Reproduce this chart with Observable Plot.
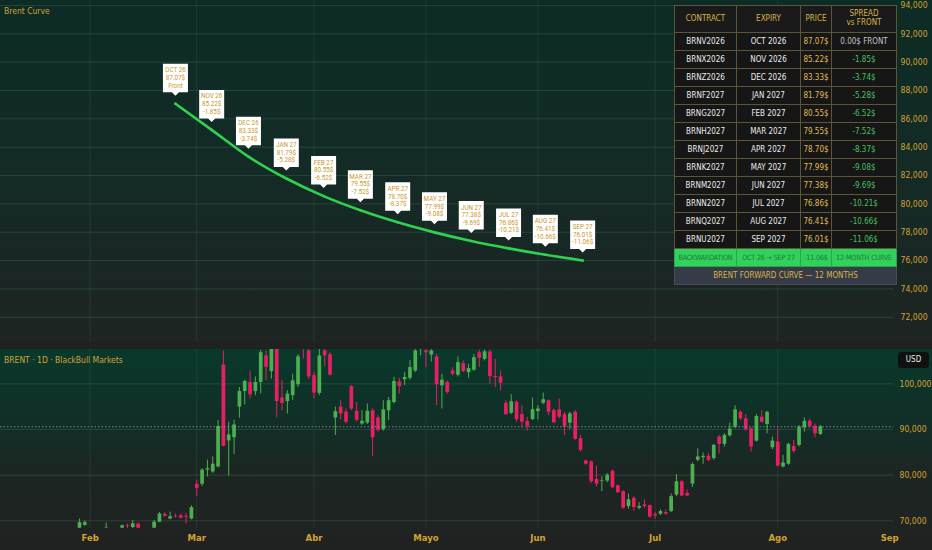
<!DOCTYPE html>
<html><head><meta charset="utf-8">
<script src="https://cdn.jsdelivr.net/npm/d3@7"></script>
<script src="https://cdn.jsdelivr.net/npm/@observablehq/plot@0.6"></script>
<style>
html,body{margin:0;padding:0;background:#202221;}
#root{position:relative;width:932px;height:550px;overflow:hidden;background:#202221;font-family:"Liberation Sans Narrow","DejaVu Sans Condensed",Roboto,sans-serif;}
#topbg{position:absolute;left:0;top:0;width:932px;height:341px;background:linear-gradient(#0c2c25 0%,#132b26 45%,#1e2523 100%);}
#botbg{position:absolute;left:0;top:349px;width:932px;height:201px;background:linear-gradient(#09392c 0%,#112f27 35%,#1c2623 62%,#202221 100%);}
#top{position:absolute;left:0;top:0;}
#bot{position:absolute;left:0;top:342px;}
.lbl{position:absolute;color:#d2a235;font-size:8.5px;white-space:nowrap;}
#usd{position:absolute;left:898px;top:352px;width:31px;height:16px;background:#0f1110;border-radius:3px;color:#e6e6e6;font-size:8px;line-height:16px;text-align:center;}
#tbl{position:absolute;left:674px;top:5px;border-collapse:collapse;table-layout:fixed;width:218px;font-size:8px;}
#tbl td{border:1px solid #5d5636;text-align:center;padding:0;height:17px;background:#161616;color:#ececec;white-space:nowrap;overflow:hidden;}
#tbl tr.hd td{height:26px;color:#d8b44c;background:#1a1a1a;line-height:1.1;}
#tbl td.pr{color:#e0bd55;}
#tbl td.sp{color:#45c163;}
#tbl td.sp0{color:#c4c4c4;}
#tbl tr.bw td{background:#31d15b;color:#1e7a3b;border-color:#27a849;font-size:7.2px;letter-spacing:-0.2px;}
#tbl tr.ft td{background:#363b47;color:#d8b44c;border-color:#4a4c50;}
</style></head>
<body>
<div id="root">
  <div id="topbg"></div>
  <div id="botbg"></div>
  <div id="top"></div>
  <div id="bot"></div>
  <div class="lbl" style="left:4px;top:6px;">Brent Curve</div>
  <div class="lbl" style="left:4px;top:355px;">BRENT · 1D · BlackBull Markets</div>
  <div id="usd">USD</div>
</div>
<script>
// ---- forward curve data ----
const contracts = ["BRNV2026","BRNX2026","BRNZ2026","BRNF2027","BRNG2027","BRNH2027","BRNJ2027","BRNK2027","BRNM2027","BRNN2027","BRNQ2027","BRNU2027"];
const expiries = ["OCT 2026","NOV 2026","DEC 2026","JAN 2027","FEB 2027","MAR 2027","APR 2027","MAY 2027","JUN 2027","JUL 2027","AUG 2027","SEP 2027"];
const shortLabels = ["OCT 26","NOV 26","DEC 26","JAN 27","FEB 27","MAR 27","APR 27","MAY 27","JUN 27","JUL 27","AUG 27","SEP 27"];
const prices = [87.07,85.22,83.33,81.79,80.55,79.55,78.70,77.99,77.38,76.86,76.41,76.01];
const spreads = [0,-1.85,-3.74,-5.28,-6.52,-7.52,-8.37,-9.08,-9.69,-10.21,-10.66,-11.06];
const curveBars = [18,24.8,31.7,38.8,45.8,52.7,59.7,66.6,73.5,80.5,87.4,94.4];

// ---- daily candles (bar index = trading day) ----
const open = [
68.4,69.0,null,null,null,68.4,null,null,68.4,68.9,
68.55,69.3,null,null,68.4,69.7,71.4,70.4,71.0,71.1,
71.0,70.4,78.0,78.0,81.1,80.7,81.8,104.1,87.5,88.2,
94.9,98.3,100.3,98.3,100.3,106.1,102.7,107.6,96.9,96.1,
97.4,99.8,108.0,107.2,101.8,97.9,107.2,106.4,92.5,94.9,
93.8,99.35,94.0,91.2,91.4,94.1,92.5,90.0,94.1,95.9,
100.4,100.9,101.2,102.8,107.6,107.2,106.3,105.87,99.57,100.29,
102.83,101.88,104.42,102.46,102.97,106.81,105.36,106.95,101.6,101.52,
95.72,93.55,95.94,93.26,91.74,92.17,93.91,95.72,96.3,94.13,
94.28,93.26,91.38,93.77,87.97,83.12,82.9,79.06,78.6,78.7,
80.87,77.68,76.38,73.12,74.93,72.75,73.48,73.33,71.38,71.45,
71.81,72.03,75.65,78.55,76.01,78.04,83.26,83.84,84.13,83.62,
88.33,86.74,88.62,90.51,93.77,92.32,90.14,87.46,92.68,91.09,
86.01,87.25,81.81,82.39,86.3,86.52,90.36,91.81,90.65,88.91];
const high = [
70.4,70.0,null,null,null,69.5,null,null,69.1,69.3,
70.1,69.5,null,null,70.1,71.8,71.8,71.9,71.5,71.5,
71.6,73.3,78.9,81.4,83.3,84.0,92.0,107.2,91.6,92.0,
99.2,100.8,102.8,101.5,107.3,107.2,108.0,108.5,100.7,98.5,
102.1,106.4,108.5,108.0,102.5,107.5,107.5,106.8,94.9,96.3,
94.5,99.6,95.9,94.1,95.6,94.5,93.0,96.3,97.0,101.4,
101.2,102.5,105.1,107.5,108.6,107.5,107.5,106.45,102.1,100.65,
103.55,105.87,105.0,104.28,106.45,107.32,107.4,107.4,105.36,102.83,
96.3,97.6,96.3,95.22,92.68,96.88,95.22,97.97,96.45,94.49,
96.67,93.77,93.77,94.13,88.7,83.26,83.12,81.96,79.64,80.36,
81.09,77.83,76.59,75.87,75.29,73.99,74.57,73.48,71.81,72.39,
72.39,75.87,80.14,78.8,76.74,82.68,85.8,84.86,84.71,86.74,
88.7,89.06,91.38,95.22,94.13,93.26,90.36,93.26,94.13,93.98,
88.33,90.14,84.35,87.03,87.61,90.87,92.54,92.32,91.23,90.87];
const low = [
68.2,68.8,null,null,null,68.4,null,null,68.3,68.3,
68.3,68.25,null,null,68.3,69.6,70.8,70.2,70.6,70.4,
69.3,70.2,75.3,77.5,79.6,80.4,81.6,86.2,79.8,84.5,
92.5,95.4,96.7,97.4,97.8,100.7,101.0,92.5,94.1,93.4,
96.4,99.2,105.4,101.0,96.7,97.4,103.7,101.7,88.7,92.1,
91.2,94.1,91.6,90.9,91.1,84.1,89.4,89.6,92.0,95.6,
97.75,99.6,100.8,102.5,106.1,103.5,104.8,95.22,94.49,97.75,
101.74,101.52,102.46,101.23,102.68,103.55,105.0,99.93,99.2,98.48,
93.04,93.26,91.59,90.36,89.64,91.96,92.1,95.43,93.04,91.23,
92.32,88.7,89.93,87.61,85.07,82.17,78.19,77.46,76.38,78.33,
77.1,76.01,72.54,72.54,72.03,72.39,72.75,70.58,70.36,71.16,
71.16,71.81,75.29,75.29,75.29,77.32,82.9,82.39,82.9,83.26,
84.57,86.16,88.33,90.14,91.96,89.64,85.07,87.25,91.38,89.06,
85.58,81.81,81.59,82.17,84.71,86.16,89.42,90.36,88.19,88.7];
const close = [
69.6,69.6,null,null,null,68.5,null,null,68.9,68.75,
69.35,68.4,null,null,69.7,71.5,71.0,70.9,70.85,70.6,
70.8,72.9,77.1,81.1,81.4,82.4,90.65,86.3,88.8,91.0,
98.3,100.5,97.6,100.3,106.8,103.6,107.6,96.1,95.7,97.75,
100.65,105.9,107.8,101.5,97.97,106.1,106.1,101.9,93.9,93.4,
91.6,94.5,92.0,91.8,94.0,88.2,89.8,94.3,96.3,100.5,
99.4,101.4,103.55,107.2,108.2,106.8,107.2,99.78,100.8,98.12,
102.1,104.64,102.68,103.33,105.72,105.58,107.0,101.59,101.38,100.14,
93.26,96.09,92.1,91.59,90.72,94.35,94.49,96.52,93.77,91.45,
92.68,90.51,93.41,87.83,85.43,82.39,78.55,78.04,78.75,80.0,
77.25,76.16,72.75,74.57,72.9,73.12,73.12,70.8,71.09,72.03,
71.52,75.29,78.55,75.43,75.43,82.32,83.99,84.13,83.26,86.52,
86.74,88.7,90.07,94.28,92.32,89.93,86.16,92.83,91.59,93.77,
87.46,81.96,82.68,86.74,85.22,90.51,91.81,90.65,89.06,90.58];

// ---- axis ticks ----
const monthBars = [2,22,44,65,86,108,131,152];
const monthLabels = ["Feb","Mar","Abr","Mayo","Jun","Jul","Ago","Sep"];
const topTicks = [72,74,76,78,80,82,84,86,88,90,92,94];
const botTicks = [70,80,90,100];

const GOLD = "#d4a233", GREEN = "#4caf50", RED = "#e91e63", LINE = "#2fd24e", LABEL = "#c8982a";
const fontFamily = '"Liberation Sans Narrow","DejaVu Sans Condensed",Roboto,sans-serif';
const fmt = d => d3.format(".3f")(d).replace(".", ",");
const monthMap = new Map(monthBars.map((b, i) => [b, monthLabels[i]]));
const xDomain = [-14.82, 152.72];

const curve = prices.map((p, i) => ({
  bar: curveBars[i], price: p, name: shortLabels[i], priceText: p.toFixed(2) + "$",
  spreadText: i === 0 ? "Front" : spreads[i].toFixed(2) + "$"
}));

// callout shape (white label box with a small pointer), drawn in pixels above each point
const callout = {
  draw(ctx) {
    const w = 12.5, b = -11.5, h = 28.5, p = 3.5;
    ctx.moveTo(-w, b - h); ctx.lineTo(w, b - h); ctx.lineTo(w, b);
    ctx.lineTo(p, b); ctx.lineTo(0, b + p); ctx.lineTo(-p, b); ctx.lineTo(-w, b);
    ctx.closePath();
  }
};
const labelText = (field, dy) => Plot.text(curve, {x: "bar", y: "price", text: field, dy, fill: LABEL, fontSize: 6.3, fontFamily: "Roboto, sans-serif", textAnchor: "middle", lineAnchor: "middle"});

const topPlot = Plot.plot({
  width: 932, height: 342,
  marginLeft: 0, marginRight: 39, marginTop: 0, marginBottom: 0,
  x: {domain: xDomain, axis: null},
  y: {domain: [70.22, 94.35], axis: null},
  style: {background: "transparent", color: GOLD, fontFamily, overflow: "visible"},
  marks: [
    Plot.gridY(topTicks, {stroke: "#3f6358", strokeOpacity: 0.45}),
    Plot.gridX(monthBars.slice(0, 7), {stroke: "#3f6358", strokeOpacity: 0.3}),
    Plot.axisY(topTicks.slice(0, 11), {anchor: "right", label: null, tickSize: 0, tickPadding: 7, tickFormat: fmt, fill: GOLD, fontSize: 8.6}),
    Plot.text([94], {x: xDomain[1], y: d => d, text: d => fmt(d), textAnchor: "start", dx: 7, fill: GOLD, fontSize: 8.6}),
    Plot.line(curve, {x: "bar", y: "price", stroke: LINE, strokeWidth: 2.6, curve: "monotone-x"}),
    Plot.dot(curve, {x: "bar", y: "price", r: 1.3, fill: LINE}),
    Plot.dot(curve, {x: "bar", y: "price", symbol: callout, fill: "white", stroke: "none"}),
    labelText("name", -33.5),
    labelText("priceText", -25.8),
    labelText("spreadText", -18.1)
  ]
});
document.getElementById("top").append(topPlot);

const candles = open.map((o, i) => ({i, o, h: high[i], l: low[i], c: close[i]})).filter(d => d.o != null);
const col = d => d.c >= d.o ? GREEN : RED;
const lastClose = close[close.length - 1];

const botPlot = Plot.plot({
  width: 932, height: 208,
  marginLeft: 0, marginRight: 39, marginTop: 7, marginBottom: 22,
  x: {domain: xDomain, axis: null},
  y: {domain: [68.32, 107.51], axis: null},
  style: {background: "transparent", color: GOLD, fontFamily, overflow: "visible"},
  marks: [
    Plot.gridY(botTicks, {stroke: "#3f6358", strokeOpacity: 0.45}),
    Plot.gridX(monthBars.slice(0, 7), {stroke: "#3f6358", strokeOpacity: 0.3}),
    Plot.ruleX(candles, {x: "i", y1: "l", y2: "h", stroke: col, strokeWidth: 1, clip: true}),
    Plot.ruleX(candles, {x: "i", y1: "o", y2: "c", stroke: col, strokeWidth: 3.7, clip: true}),
    Plot.ruleY([lastClose], {stroke: "#8da2b4", strokeOpacity: 0.8, strokeDasharray: "1.5 2"}),
    Plot.axisY(botTicks, {anchor: "right", label: null, tickSize: 0, tickPadding: 6, tickFormat: fmt, fill: GOLD, fontSize: 8.6}),
    Plot.axisX(monthBars, {anchor: "bottom", label: null, tickSize: 0, tickPadding: 6, tickFormat: d => monthMap.get(d), fill: GOLD, fontSize: 9.5, fontWeight: "bold"})
  ]
});
document.getElementById("bot").append(botPlot);

// ---- contract table ----
let html = '<tr class="hd"><td style="width:61px">CONTRACT</td><td style="width:63px">EXPIRY</td><td style="width:30px">PRICE</td><td style="width:64px">SPREAD<br>vs FRONT</td></tr>';
contracts.forEach((c, i) => {
  const sp = i === 0 ? '<td class="sp0">0.00$ FRONT</td>' : `<td class="sp">${spreads[i].toFixed(2)}$</td>`;
  html += `<tr><td>${c}</td><td>${expiries[i]}</td><td class="pr">${prices[i].toFixed(2)}$</td>${sp}</tr>`;
});
const totalSpread = spreads[spreads.length - 1];
html += `<tr class="bw"><td>BACKWARDATION</td><td>${shortLabels[0]} → ${shortLabels[shortLabels.length-1]}</td><td>${totalSpread.toFixed(2)}$</td><td>12-MONTH CURVE</td></tr>`;
html += '<tr class="ft"><td colspan="4">BRENT FORWARD CURVE — 12 MONTHS</td></tr>';
const tbl = document.createElement("table");
tbl.id = "tbl";
tbl.innerHTML = html;
document.getElementById("root").append(tbl);
</script>
</body></html>
